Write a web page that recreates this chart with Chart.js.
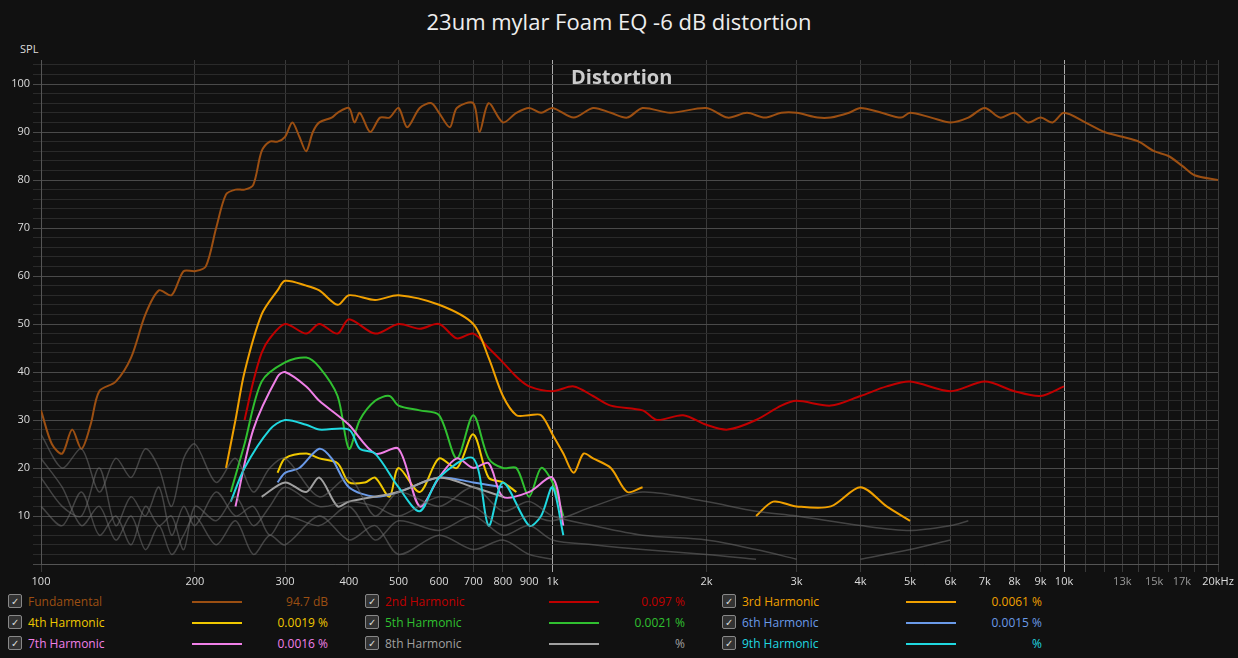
<!DOCTYPE html>
<html><head><meta charset="utf-8">
<script src="https://cdn.jsdelivr.net/npm/chart.js@4"></script>
<style>
body{margin:0;background:#111;width:1238px;height:658px;overflow:hidden;font-family:"Open Sans",sans-serif;color:#ddd;position:relative}
#t{position:absolute;top:6px;width:100%;text-align:center;font-size:22px;color:#eee}
#spl{position:absolute;left:20px;top:41px;font-size:11px;color:#ddd}
#dist{position:absolute;left:571px;top:63px;font-size:20px;font-weight:bold;color:#ccc}
#wrap{position:absolute;left:0;top:0;width:1238px;height:590px}
#leg{position:absolute;left:8px;top:591px;font-size:12px}
.it{position:absolute;width:350px;height:18px}
.cb{position:absolute;left:0;top:1px;width:12px;height:12px;border:1px solid #888;border-radius:2px;background:#333;color:#ddd;font-size:10px;line-height:12px;text-align:center}
.nm{position:absolute;left:20px;top:0}
.ln{position:absolute;left:184px;top:8px;width:50px;height:2px}
.vl{position:absolute;right:30px;top:0;text-align:right}
</style></head><body>
<div id="t">23um mylar Foam EQ -6 dB distortion</div>
<div id="spl">SPL</div>
<div id="wrap"><canvas id="c" width="1238" height="590"></canvas></div>
<div id="dist">Distortion</div>
<div id="leg"></div>
<script>
const names=["Fundamental","2nd Harmonic","3rd Harmonic","4th Harmonic","5th Harmonic","6th Harmonic","7th Harmonic","8th Harmonic","9th Harmonic"];
const colors=["#9c4f12","#c00000","#f0a000","#f0c800","#30c030","#6a9ae8","#f080e8","#a0a0a0","#20d8e0"];
const legendValues=["94.7 dB","0.097 %","0.0061 %","0.0019 %","0.0021 %","0.0015 %","0.0016 %","%","%"];
const fundF=[100,105,110,115,120,125,130,140,150,160,170,180,190,200,210,220,230,240,250,260,270,280,290,300,310,320,330,340,350,370,380,400,410,420,440,460,480,500,520,550,580,600,630,650,700,720,750,800,850,900,950,1000,1100,1200,1300,1400,1500,1700,2000,2200,2400,2600,2800,3000,3300,3500,3800,4000,4400,4800,5000,5500,6000,6500,7000,7500,8000,8500,9000,9500,10000,11000,12000,13000,14000,15000,16000,17000,18000,20000];
const fundV=[32,25,23,28,24,29,36,38,43,52,57,56,61,61,62,70,77,78,78,79,86,88,88,89,92,89,86,90,92,93,94,95,92,94,90,93,93,95,91,95,96,94,91,95,96,90,96,92,94,95,94,95,93,95,94,93,95,94,95,93,94,93,94,94,93,93,94,95,94,93,94,93,92,93,95,93,94,92,93,92,94,92,90,89,88,86,85,83,81,80];
const h2F=[250,260,270,280,300,330,350,380,400,450,500,550,600,650,700,750,800,850,900,1000,1100,1200,1300,1500,1600,1800,2000,2200,2500,2800,3000,3500,4000,4500,5000,6000,7000,8000,9000,10000];
const h2V=[30,38,44,47,50,48,50,48,51,48,50,49,50,47,48,45,42,39,37,36,37,35,33,32,30,31,29,28,30,33,34,33,35,37,38,36,38,36,35,37];
const h3F=[230,240,250,270,290,300,330,350,380,400,450,500,600,700,750,800,850,900,950,1000,1050,1100,1150,1200,1300,1400,1500,1600,2400,2500,2700,3000,3500,4000,4500,5000,5300];
const h3V=[20,30,40,52,57,59,58,57,54,56,55,56,54,50,43,35,31,31,31,27,23,19,23,22,20,15,16,null,null,10,13,12,12,16,12,9,null];
const h4F=[290,300,330,350,380,400,430,450,480,500,550,600,650,700,750,800,850];
const h4V=[19,22,23,22,21,17,17,18,14,20,15,22,20,27,18,17,15];
const h5F=[235,250,270,300,330,350,380,400,420,450,480,500,550,600,650,700,750,800,850,900,950,1000,1050];
const h5V=[15,25,38,42,43,41,35,24,30,34,35,33,32,31,22,31,22,20,20,14,20,17,10];
const h6F=[290,300,320,350,370,400,450,500,600,700,800];
const h6V=[17,19,20,24,22,16,14,15,18,17,16];
const h7F=[240,260,290,300,330,350,380,400,450,500,550,600,650,700,750,800,900,1000,1050];
const h7V=[12,28,39,40,37,34,31,29,23,24,12,18,22,20,21,14,15,18,8];
const h8F=[270,300,330,350,380,400,500,600,700,800];
const h8V=[14,17,15,18,12,13,15,18,16,14];
const h9F=[235,250,280,300,330,350,400,420,450,500,550,600,700,750,800,900,950,1000,1050];
const h9V=[13,20,28,30,29,28,28,24,23,16,11,18,22,8,17,8,10,16,6];
const noiseF=[100,110,120,130,140,150,160,170,180,190,200,220,240,260,280,300,350,400,450,500,600,700,800,900,1000,1200,1500,2000,2500,3000,4000,5000,6000,6500];
const noise1=[27,20,24,15,22,18,24,20,12,22,25,17,22,15,20,22,14,18,10,15,12,16,11,13,10,8,6,5,3,1,null,null,null,null];
const noise2=[18,12,10,20,8,14,10,16,6,12,8,15,10,12,6,10,8,12,5,9,7,10,6,8,5,4,3,2,1,null,null,null,null,null];
const noise3=[12,8,15,6,10,4,12,8,10,3,12,9,14,8,12,16,12,13,12,10,14,12,8,10,9,12,15,13,11,10,8,7,8,9];
const noise4=[22,16,8,12,5,10,3,8,2,6,10,4,9,2,6,4,10,5,8,2,6,3,5,2,1,null,null,null,null,null,1,3,5,null];
const tickVals=[100,200,300,400,500,600,700,800,900,1000,2000,3000,4000,5000,6000,7000,8000,9000,10000,11000,12000,13000,14000,15000,16000,17000,18000,19000,20000];
const tickText={100:"100",200:"200",300:"300",400:"400",500:"500",600:"600",700:"700",800:"800",900:"900",1000:"1k",2000:"2k",3000:"3k",4000:"4k",5000:"5k",6000:"6k",7000:"7k",8000:"8k",9000:"9k",10000:"10k",13000:"13k",15000:"15k",17000:"17k",20000:"20kHz"};

const pts=(f,v)=>f.map((x,i)=>({x,y:v[i]}));
const ds=[];
[noise1,noise2,noise3,noise4].forEach(n=>ds.push({data:pts(noiseF,n),borderColor:"rgba(110,110,110,0.55)",borderWidth:1.5,pointRadius:0,tension:0.3}));
const series=[[fundF,fundV],[h2F,h2V],[h3F,h3V],[h4F,h4V],[h5F,h5V],[h6F,h6V],[h7F,h7V],[h8F,h8V],[h9F,h9V]];
for(let i=series.length-1;i>=0;i--)ds.push({data:pts(series[i][0],series[i][1]),borderColor:colors[i],borderWidth:2,pointRadius:0,tension:0.3,spanGaps:false});

new Chart(document.getElementById("c"),{type:"line",data:{datasets:ds},options:{
 responsive:false,animation:false,
 layout:{padding:{top:60,right:20,left:0,bottom:0}},
 plugins:{legend:{display:false},tooltip:{enabled:false}},
 scales:{
  x:{type:"logarithmic",min:100,max:20000,
   afterBuildTicks:s=>{s.ticks=tickVals.map(v=>({value:v}));},
   afterFit:s=>{s.height=26;},
   ticks:{autoSkip:false,maxRotation:0,color:c=>(c.tick&&[13000,15000,17000].includes(c.tick.value))?"#999":"#ddd",font:{size:11,family:"Open Sans"},callback:v=>tickText[v]||""},
   grid:{color:c=>(c.tick&&(c.tick.value===1000||c.tick.value===10000))?"#aaa":"#3a3a3a",lineWidth:1},border:{color:"#555"}},
  y:{min:0,max:105,
   afterBuildTicks:s=>{const t=[];for(let v=0;v<=104;v+=2)t.push({value:v});s.ticks=t;},
   afterFit:s=>{s.width=41;},
   ticks:{autoSkip:false,color:"#ddd",font:{size:11,family:"Open Sans"},callback:v=>(v%10===0&&v>0)?String(v):""},
   grid:{color:c=>(c.tick&&c.tick.value%10===0)?"#4a4a4a":"#2a2a2a",lineWidth:1},border:{color:"#555"}}
 }}});

const leg=document.getElementById("leg");
names.forEach((n,i)=>{const r=Math.floor(i/3),c=i%3;const d=document.createElement("div");d.className="it";d.style.left=(c*357)+"px";d.style.top=(r*21+2)+"px";
 d.innerHTML=`<div class="cb">✓</div><div class="nm" style="color:${colors[i]}">${n}</div><div class="ln" style="background:${colors[i]}"></div><div class="vl" style="color:${colors[i]}">${legendValues[i]}</div>`;leg.appendChild(d);});
</script></body></html>
